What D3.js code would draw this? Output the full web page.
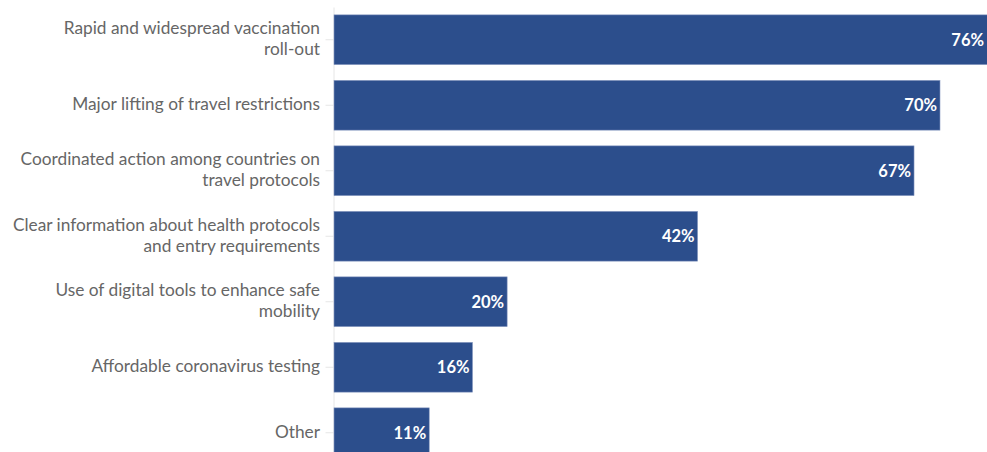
<!DOCTYPE html>
<html>
<head>
<meta charset="utf-8">
<script src="https://cdn.jsdelivr.net/npm/d3@7"></script>
<style>
  body { margin: 0; background: #fff; }
  svg { display: block; }
</style>
</head>
<body>
<svg width="987" height="452"></svg>
<script>
// Each category label as its wrapped lines
var categories = [
    ['Rapid and widespread vaccination', 'roll-out'],
    ['Major lifting of travel restrictions'],
    ['Coordinated action among countries on', 'travel protocols'],
    ['Clear information about health protocols', 'and entry requirements'],
    ['Use of digital tools to enhance safe', 'mobility'],
    ['Affordable coronavirus testing'],
    ['Other']
];
var values = [76, 70, 67, 42, 20, 16, 11];

var svg = d3.select('svg');
var svgWidth = +svg.attr('width');
var svgHeight = +svg.attr('height');

var padding = { t: 7, l: 334 };
var step = 65.5;

var keys = categories.map((d, i) => i);

var yScale = d3.scaleBand()
    .domain(keys)
    .range([padding.t, padding.t + step * keys.length])
    .paddingInner(0.24)
    .paddingOuter(0.12);

// 70% ends around x=940
var xScale = d3.scaleLinear()
    .domain([0, 70])
    .range([padding.l, 940]);

// y axis: light line with short ticks at left
var yAxis = svg.append('g')
    .attr('transform', `translate(${padding.l - 0.5},0)`)
    .call(d3.axisLeft(yScale).tickSize(8).tickSizeOuter(0).tickFormat(''));
yAxis.select('.domain').attr('stroke', '#e6e6e6');
yAxis.selectAll('.tick line').attr('stroke', '#e6e6e6');

var rows = svg.append('g').selectAll('g')
    .data(keys)
    .enter().append('g');

rows.append('rect')
    .attr('x', xScale(0))
    .attr('y', d => yScale(d))
    .attr('width', d => xScale(values[d]) - xScale(0))
    .attr('height', yScale.bandwidth())
    .attr('fill', '#2c4e8c')
    .attr('stroke', '#8a9cc2')
    .attr('stroke-width', 0.6);

rows.append('text')
    .attr('x', d => Math.min(xScale(values[d]), svgWidth) - 3)
    .attr('y', d => yScale(d) + yScale.bandwidth() / 2)
    .attr('dy', '0.35em')
    .attr('text-anchor', 'end')
    .attr('fill', '#fff')
    .style('font-family', 'Lato, sans-serif')
    .style('font-weight', 'bold')
    .style('font-size', '16.5px')
    .text(d => values[d] + '%');

var lineH = 21;
var labels = rows.append('text')
    .attr('text-anchor', 'end')
    .attr('fill', '#666')
    .style('font-family', 'Lato, sans-serif')
    .style('font-size', '17.3px');

labels.each(function (d) {
    var lines = categories[d];
    var mid = yScale(d) + yScale.bandwidth() / 2;
    var y0 = mid - (lines.length - 1) * lineH / 2;
    d3.select(this).selectAll('tspan')
        .data(lines)
        .enter().append('tspan')
        .attr('x', 320)
        .attr('y', (l, i) => y0 + i * lineH - 1)
        .attr('dy', '0.35em')
        .text(l => l);
});
</script>
</body>
</html>
